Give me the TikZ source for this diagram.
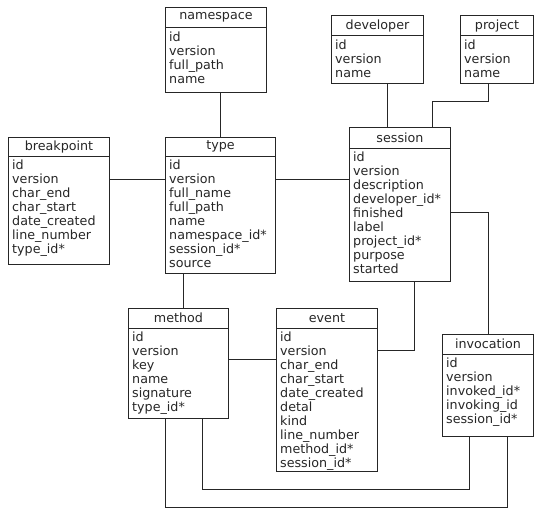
\documentclass[tikz,border=0pt]{standalone}
\usepackage{fontspec}
\setmainfont{DejaVu Sans}
\tikzset{
  tbl/.style={draw=black!85, line width=1pt, inner sep=0pt, anchor=north west},
  tblhead/.style={inner sep=0pt, text=black!85, font=\fontsize{12.7}{14}\selectfont},
  tblrows/.style={anchor=north west, inner sep=0pt, align=left, text=black!85,
    font=\fontsize{12.7}{14}\selectfont},
  link/.style={draw=black!85, line width=1pt},
}
\begin{document}
\begin{tikzpicture}[x=1pt,y=-1pt,line join=miter]
    \useasboundingbox (0,0) rectangle (544,511);

    \node[tbl, minimum width=101pt, minimum height=85pt] (namespace) at (165,7) {};
    \node[tbl, minimum width=101pt, minimum height=127pt] (breakpoint) at (8,137) {};
    \node[tbl, minimum width=110pt, minimum height=136pt] (type) at (165,137) {};
    \node[tbl, minimum width=92pt, minimum height=68pt] (developer) at (331,15) {};
    \node[tbl, minimum width=73pt, minimum height=68pt] (project) at (460,15) {};
    \node[tbl, minimum width=101pt, minimum height=154pt] (session) at (349,127) {};
    \node[tbl, minimum width=100pt, minimum height=110pt] (method) at (128,308) {};
    \node[tbl, minimum width=101pt, minimum height=163pt] (event) at (276,308) {};
    \node[tbl, minimum width=91pt, minimum height=102pt] (invocation) at (442,334) {};

    \foreach \t/\h in {namespace/21,breakpoint/19,type/19,developer/21,project/21,
                       session/21,method/20,event/20,invocation/20} {
        \draw[link] ([yshift=-\h pt]\t.north west) -- ([yshift=-\h pt]\t.north east);
        \node[tblhead] (\t-head) at ([yshift=-\h pt/2]\t.north) {\t};
    }

    \node[tblrows] (namespace-rows) at ([xshift=4pt,yshift=-24.5pt]namespace.north west)
        {id\\version\\full\_path\\name};
    \node[tblrows] (breakpoint-rows) at ([xshift=4pt,yshift=-22.5pt]breakpoint.north west)
        {id\\version\\char\_end\\char\_start\\date\_created\\line\_number\\type\_id*};
    \node[tblrows] (type-rows) at ([xshift=4pt,yshift=-22.5pt]type.north west)
        {id\\version\\full\_name\\full\_path\\name\\namespace\_id*\\session\_id*\\source};
    \node[tblrows] (developer-rows) at ([xshift=4pt,yshift=-24.5pt]developer.north west)
        {id\\version\\name};
    \node[tblrows] (project-rows) at ([xshift=4pt,yshift=-24.5pt]project.north west)
        {id\\version\\name};
    \node[tblrows] (session-rows) at ([xshift=4pt,yshift=-24.5pt]session.north west)
        {id\\version\\description\\developer\_id*\\finished\\label\\project\_id*\\purpose\\started};
    \node[tblrows] (method-rows) at ([xshift=4pt,yshift=-23.5pt]method.north west)
        {id\\version\\key\\name\\signature\\type\_id*};
    \node[tblrows] (event-rows) at ([xshift=4pt,yshift=-23.5pt]event.north west)
        {id\\version\\char\_end\\char\_start\\date\_created\\detal\\kind\\line\_number\\method\_id*\\session\_id*};
    \node[tblrows] (invocation-rows) at ([xshift=4pt,yshift=-23.5pt]invocation.north west)
        {id\\version\\invoked\_id*\\invoking\_id\\session\_id*};

    \coordinate (type-w) at ([yshift=26pt]type.west);
    \coordinate (type-e) at ([yshift=26pt]type.east);
    \coordinate (type-s) at ([xshift=-37pt]type.south);
    \coordinate (developer-s) at ([xshift=10pt]developer.south);
    \coordinate (method-e) at ([yshift=4pt]method.east);

    \draw[link] (type.north) -- (type.north |- namespace.south);
    \draw[link] (type-w) -- (breakpoint.east |- type-w);
    \draw[link] (type-e) -- (session.west |- type-e);
    \draw[link] (developer-s) -- (session.north -| developer-s);
    \draw[link] ([xshift=-8.5pt]project.south) -- ++(0,18) -| ([xshift=32.5pt]session.north);
    \draw[link] ([yshift=-8pt]session.east) -| (invocation.north);
    \draw[link] ([xshift=14.5pt]session.south) |- ([yshift=39.5pt]event.east);
    \draw[link] (type-s) -- (method.north -| type-s);
    \draw[link] (method-e) -- (event.west |- method-e);
    \draw[link] ([xshift=24pt]method.south) -- ++(0,70) -| ([xshift=-18.5pt]invocation.south);
    \draw[link] ([xshift=-13pt]method.south) -- ++(0,88) -| ([xshift=19.5pt]invocation.south);
\end{tikzpicture}
\end{document}
